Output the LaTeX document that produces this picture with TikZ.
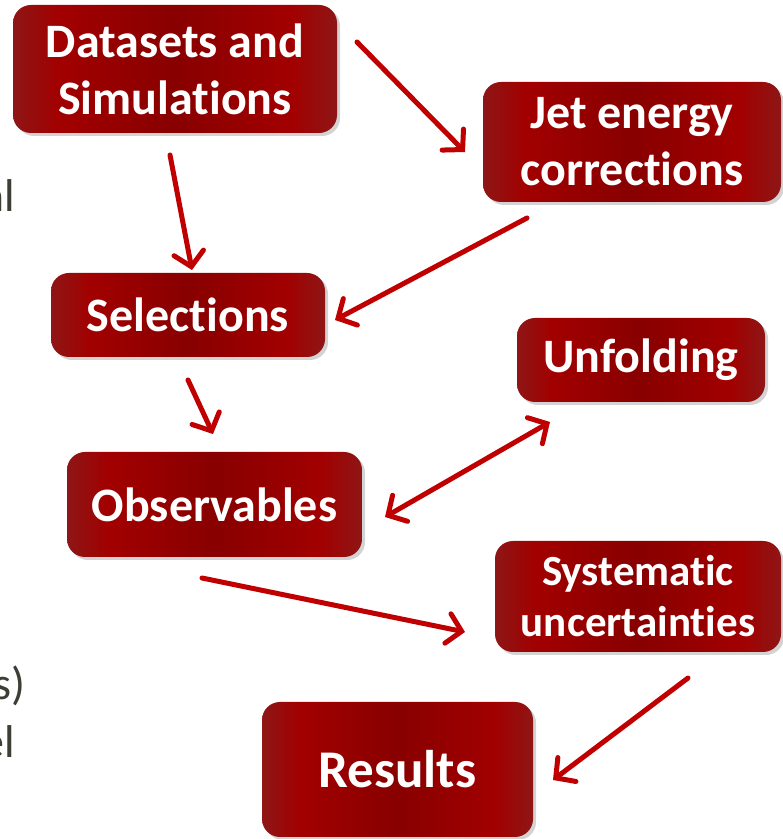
\documentclass[tikz,border=0pt]{standalone}
\usepackage{fontspec}
\setmainfont{Carlito}[Ligatures=NoCommon]
\usetikzlibrary{arrows.meta,positioning,shadows}

\definecolor{edgered}{RGB}{142,22,22}
\definecolor{litered}{RGB}{162,0,0}
\definecolor{deepred}{RGB}{136,0,0}
\definecolor{arrred}{RGB}{192,0,0}
\definecolor{slidegray}{RGB}{62,62,52}
\pgfdeclarehorizontalshading{boxshade}{100bp}{color(0bp)=(edgered); color(25bp)=(edgered); color(32bp)=(litered); color(50bp)=(deepred); color(68bp)=(litered); color(75bp)=(edgered); color(100bp)=(edgered)}

\tikzset{
  box/.style={rounded corners=18pt, shading=boxshade, text=white, align=center,
    font=\bfseries\fontsize{48}{57}\selectfont, inner sep=0pt,
    drop shadow={opacity=0.35, shadow xshift=3pt, shadow yshift=-3pt}},
  arr/.style={draw=arrred, line width=5pt, line cap=round,
    -{Straight Barb[length=14pt, width=30pt, line cap=round]}},
  slidetext/.style={text=slidegray, font=\fontsize{46}{46}\selectfont, inner sep=0pt, anchor=base east}
}

\begin{document}
\begin{tikzpicture}[x=1pt,y=1pt]
  \useasboundingbox (0,0) rectangle (783,839);
  \clip (0,0) rectangle (783,839);
  % leftover slide text
  \node[slidetext] (txtal) at (15,627) {al};
  \node[slidetext] (txts) at (26,139) {s)};
  \node[slidetext] (txtel) at (15,81) {el};
  % boxes
  \node[box, minimum width=324pt, minimum height=128pt] (data) at (175,770) {Datasets and\\Simulations};
  \node[box, minimum width=298pt, minimum height=120pt] (jec) at (632,697) {Jet energy\\corrections};
  \node[box, minimum width=274pt, minimum height=84pt] (sel) at (188,524) {Selections};
  \node[box, minimum width=248pt, minimum height=84pt] (unf) at (641,479) {Unfolding};
  \node[box, minimum width=295pt, minimum height=105pt] (obs) at (214.5,334.5) {Observables};
  \node[box, minimum width=286pt, minimum height=111pt, font=\bfseries\fontsize{43}{51}\selectfont] (sys) at (638,242.5) {Systematic\\uncertainties};
  \node[box, minimum width=271pt, minimum height=135pt, font=\bfseries\fontsize{53}{60}\selectfont] (res) at (397.5,69.5) {Results};
  % arrow ends
  \coordinate (dataR) at (357,797);
  \coordinate (jecL) at (465,687);
  \coordinate (dataB) at (170,684);
  \coordinate (selT) at (192,569);
  \coordinate (jecB) at (527,621);
  \coordinate (selR) at (335,519);
  \coordinate (selB) at (188,459);
  \coordinate (obsT) at (213,405);
  \coordinate (obsR) at (385,322);
  \coordinate (unfB) at (550,417);
  \coordinate (obsB) at (202,261);
  \coordinate (sysL) at (465,207);
  \coordinate (sysB) at (688,161);
  \coordinate (resR) at (553,59);
  \draw[arr] (dataR) -- (jecL);
  \draw[arr] (dataB) -- (selT);
  \draw[arr] (jecB) -- (selR);
  \draw[arr] (selB) -- (obsT);
  \draw[arr, {Straight Barb[length=14pt, width=30pt, line cap=round]}-{Straight Barb[length=14pt, width=30pt, line cap=round]}] (obsR) -- (unfB);
  \draw[arr] (obsB) -- (sysL);
  \draw[arr] (sysB) -- (resR);
\end{tikzpicture}
\end{document}
